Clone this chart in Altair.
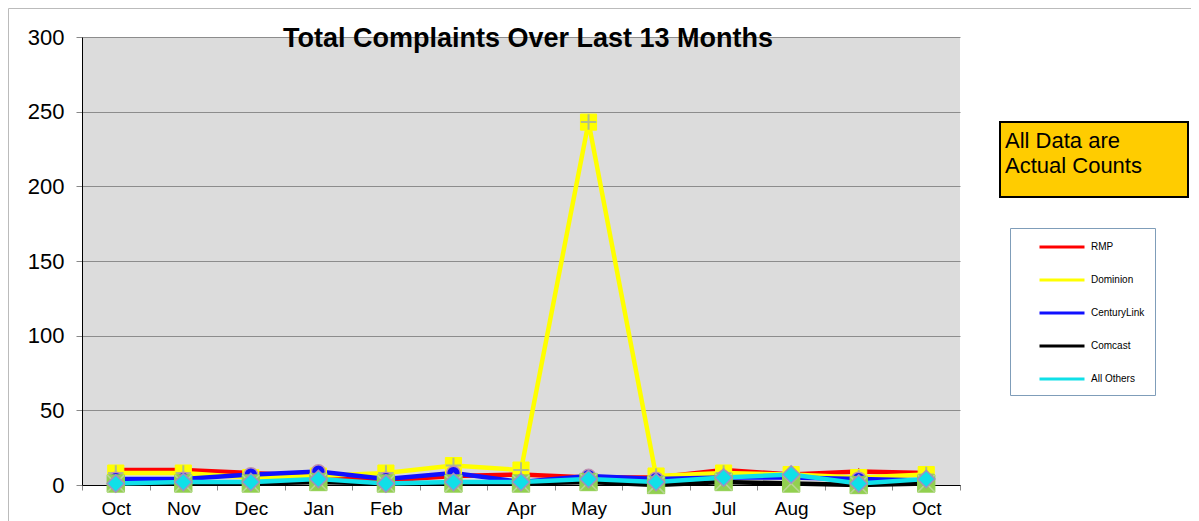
import altair as alt
import pandas as pd

months = ["Oct", "Nov", "Dec", "Jan", "Feb", "Mar", "Apr", "May", "Jun", "Jul", "Aug", "Sep", "Oct"]
series_names = ["RMP", "Dominion", "CenturyLink", "Comcast", "All Others"]
rmp = [10, 10, 8, 6, 3, 6, 7, 5, 5, 10, 7, 9, 8]
dominion = [8, 8, 5, 6, 8, 13, 10, 243, 6, 8, 7, 5, 7]
centurylink = [4, 4, 7, 9, 4, 8, 2, 6, 4, 5, 5, 4, 3]
comcast = [1, 1, 1, 2, 1, 1, 1, 2, 0, 2, 1, 0, 1]
all_others = [1, 2, 2, 4, 1, 2, 2, 4, 2, 5, 7, 1, 4]
y_ticks = [0, 50, 100, 150, 200, 250, 300]
chart_title = "Total Complaints Over Last 13 Months"
note_lines = ["All Data are", "Actual Counts"]

line_colors = ["#FF0000", "#FFFF00", "#1010FF", "#000000", "#10E0E8"]

values = [rmp, dominion, centurylink, comcast, all_others]
rows = []
for name, vals in zip(series_names, values):
    for i, v in enumerate(vals):
        rows.append({"idx": i, "series": name, "value": v})
df = pd.DataFrame(rows)

label_expr = "[" + ",".join("'%s'" % m for m in months) + "][datum.value]"

W, H = 878, 448

x_enc = alt.X(
    "idx:O",
    bandPosition=0.5,
    scale=alt.Scale(type="band", paddingInner=0, paddingOuter=0, domain=list(range(len(months)))),
    axis=alt.Axis(
        title=None, labelExpr=label_expr, labelAngle=0, tickBand="extent",
        labelFontSize=19, labelFont="Liberation Sans", labelColor="black",
        labelPadding=9, tickSize=5, tickColor="#888888", domainColor="black",
        domainWidth=1, grid=False,
    ),
)
y_enc = alt.Y(
    "value:Q",
    scale=alt.Scale(domain=[0, 300], nice=False),
    axis=alt.Axis(
        title=None, values=y_ticks, labelFontSize=22, labelFont="Liberation Sans",
        labelColor="black", labelPadding=12, tickSize=6, tickColor="#888888",
        domainColor="black", grid=True, gridColor="#8C8C8C", gridWidth=1,
    ),
)

base = alt.Chart(df)

lines = base.mark_line(strokeWidth=4.5).encode(
    x=x_enc,
    y=y_enc,
    color=alt.Color(
        "series:N",
        scale=alt.Scale(domain=series_names, range=line_colors),
        sort=series_names,
        legend=alt.Legend(
            title=None, orient="none", legendX=928, legendY=191,
            symbolType="M-3,0H3", symbolSize=225, symbolStrokeWidth=3,
            symbolOffset=33, labelOffset=20, labelFontSize=10,
            labelFont="Liberation Sans", labelColor="black",
            rowPadding=18, padding=10, fillColor="white",
            strokeColor="#7F9DB9", cornerRadius=0,
        ),
    ),
    order=alt.Order("series_order:Q"),
).transform_calculate(
    series_order="indexof(%s, datum.series)" % str(series_names)
)


def pts(name, **kw):
    return base.transform_filter(alt.datum.series == name).mark_point(filled=False, **kw).encode(
        x=x_enc, y=y_enc
    )


rmp_pts = pts("RMP", shape="triangle-up", size=60, fill="#F06A20", fillOpacity=1, stroke="#E05030", strokeWidth=1)
dom_sq = pts("Dominion", shape="square", size=260, fill="#FFFF00", fillOpacity=1, stroke="#FFFF00", strokeWidth=1)
dom_cross = pts("Dominion", shape="M-1,0H1M0,-1V1", size=240, stroke="#8FA2C8", strokeWidth=2)
cl_pts = pts("CenturyLink", shape="circle", size=190, fill="#1010FF", fillOpacity=1, stroke="#C090B0", strokeWidth=1.5)
cc_sq = pts("Comcast", shape="square", size=300, fill="#92D050", fillOpacity=1, stroke="#92D050", strokeWidth=1)
cc_x = pts("Comcast", shape="M-1,-1L1,1M-1,1L1,-1", size=280, stroke="#C8D8B0", strokeWidth=1.5)
ao_pts = pts("All Others", shape="diamond", size=300, fill="#10E0E8", fillOpacity=1, stroke="#A090C0", strokeWidth=1.5)

one = pd.DataFrame({"k": [0]})

frame = alt.Chart(one).mark_rect(fill="transparent", stroke="#BBBBBB", strokeWidth=1).encode(
    x=alt.value(-73.5), x2=alt.value(1400), y=alt.value(-28.5), y2=alt.value(700)
)

title = alt.Chart(one).mark_text(
    text=chart_title, font="Liberation Sans", fontSize=27, fontWeight="bold",
    color="black", align="center", baseline="middle",
).encode(x=alt.value(446), y=alt.value(2))

note_box = alt.Chart(one).mark_rect(fill="#FFCC00", stroke="black", strokeWidth=2).encode(
    x=alt.value(918), x2=alt.value(1106), y=alt.value(85), y2=alt.value(160)
)
note_text = alt.Chart(one).mark_text(
    text=note_lines, font="Liberation Sans", fontSize=22, color="black",
    align="left", baseline="middle", lineHeight=25,
).encode(x=alt.value(923), y=alt.value(104))

chart = alt.layer(
    frame, lines, rmp_pts, dom_sq, dom_cross, cl_pts, cc_sq, cc_x, ao_pts,
    title, note_box, note_text,
).properties(
    width=W, height=H,
    background="white",
    autosize=alt.AutoSizeParams(type="none"),
    padding={"left": 74, "top": 29, "right": 231, "bottom": 36},
).configure_view(
    fill="#DCDCDC", stroke=None
)

chart.save("out.html", embed_options={"renderer": "svg", "actions": False})
